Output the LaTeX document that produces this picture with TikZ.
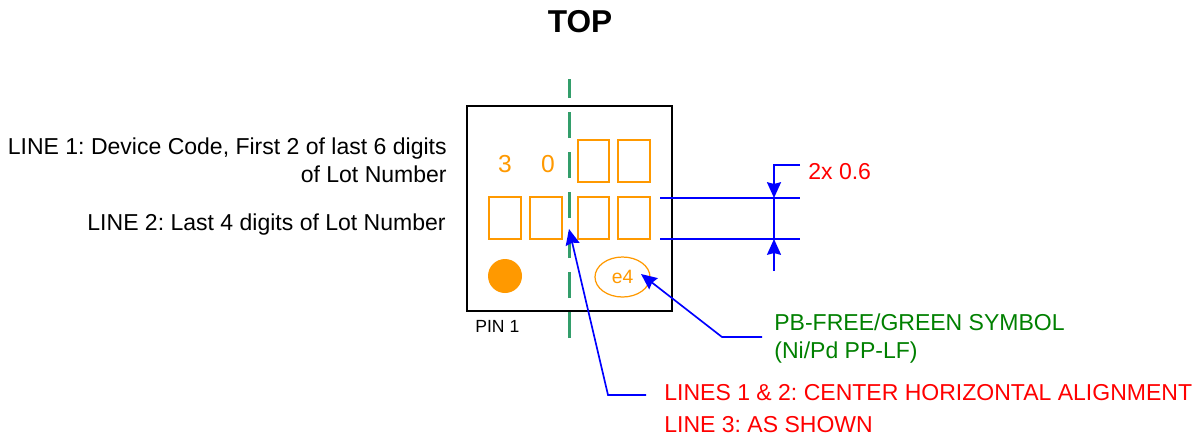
\documentclass[tikz,border=0pt]{standalone}
\usepackage{fontspec}
\setmainfont{Liberation Sans}
\frenchspacing
\usetikzlibrary{arrows.meta,positioning,shapes.geometric}
\definecolor{markorange}{rgb}{1,0.6,0}
\definecolor{centerline}{rgb}{0.2,0.62,0.42}
\definecolor{symbolgreen}{rgb}{0,0.5,0}
\tikzstyle{lbl}=[inner sep=0pt,font=\fontsize{13.1}{15}\selectfont]
\tikzstyle{digit}=[draw=markorange,line width=0.7pt,inner sep=0pt]
\tikzstyle{leader}=[draw=blue,line width=0.95pt]
\tikzstyle{leadertip}=[leader,-{Stealth[length=9pt,width=8pt,inset=1pt]}]
\begin{document}
\begin{tikzpicture}[x=0.02cm,y=-0.02cm]
\useasboundingbox (0,0) rectangle (1200,441);

% % % % % % % % % % % % % % %

\node[inner sep=0pt,font=\fontsize{18}{20}\selectfont\bfseries,anchor=base] (top) at (580,32) {TOP};

\node[draw,line width=0.8pt,minimum width=205*0.02cm,minimum height=205*0.02cm,inner sep=0pt,outer sep=0pt] (pkg) at (569.5,208.5) {};
\node[lbl,font=\fontsize{10}{12}\selectfont,anchor=base west] (pin) at (475,332) {PIN 1};

\coordinate (c1) at (569,338);
\coordinate (c2) at (569,79);
\draw[centerline,line width=1.7pt,dash pattern=on 26*0.02cm off 14*0.02cm] (c1)--(c2);

% top row
\foreach \name/\x/\w in {ta/593.5/31,tb/634/32} {
\node[digit,minimum width=\w*0.02cm,minimum height=42*0.02cm] (\name) at (\x,161) {};
}
% second row
\foreach \name/\x/\w in {ba/505/32,bb/546/32,bc/593.5/31,bd/634/32} {
\node[digit,minimum width=\w*0.02cm,minimum height=42*0.02cm] (\name) at (\x,218) {};
}
\node[lbl,font=\fontsize{14}{16}\selectfont,text=markorange,anchor=base] (three) at (505,172) {3};
\node[lbl,font=\fontsize{14}{16}\selectfont,text=markorange,anchor=base] (zero) at (548,172) {0};
\node[circle,fill=markorange,minimum size=34*0.02cm,inner sep=0pt] (dot) at (505,276) {};
\node[ellipse,draw=markorange,line width=0.7pt,minimum width=55*0.02cm,minimum height=40*0.02cm,inner sep=0pt,text=markorange,font=\fontsize{11}{13}\selectfont] (efour) at (622.5,277) {e4};

% left text
\node[lbl,anchor=base east] (l1) at (447,154) {LINE 1: Device Code, First 2 of last 6 digits};
\node[lbl,anchor=base east] (l1b) at (447,182) {of Lot Number};
\node[lbl,anchor=base east] (l2) at (446,230) {LINE 2: Last 4 digits of Lot Number};

% dimension
\coordinate (d1) at (660,198);
\coordinate (d2) at (800,198);
\coordinate (d3) at (660,239);
\coordinate (d4) at (800,239);
\coordinate (v0) at (800,165);
\coordinate (v1) at (774,165);
\coordinate (v2) at (774,198);
\coordinate (v3) at (774,239);
\coordinate (v4) at (774,271);
\draw[leader] (d1)--(d2);
\draw[leader] (d3)--(d4);
\draw[leader] (v2)--(v3);
\draw[leadertip] (v0)--(v1)--(v2);
\draw[leadertip] (v4)--(v3);
\node[lbl,text=red,anchor=base west] (dim) at (808,179) {2x 0.6};

% callouts
\node[lbl,text=symbolgreen,anchor=base west] (g1) at (774,330) {PB-FREE/GREEN SYMBOL};
\node[lbl,text=symbolgreen,anchor=base west] (g2) at (774,358) {(Ni/Pd PP-LF)};
\node[lbl,text=red,anchor=base west] (r1) at (664,400) {LINES 1 \& 2: CENTER HORIZONTAL ALIGNMENT};
\node[lbl,text=red,anchor=base west] (r2) at (664,432) {LINE 3: AS SHOWN};

\coordinate (a0) at (762,337);
\coordinate (a1) at (722,337);
\coordinate (a2) at (641,274);
\draw[leadertip] (a0)--(a1)--(a2);
\coordinate (b0) at (646,395);
\coordinate (b1) at (608,395);
\coordinate (b2) at (569,229);
\draw[leadertip] (b0)--(b1)--(b2);

\end{tikzpicture}
\end{document}
